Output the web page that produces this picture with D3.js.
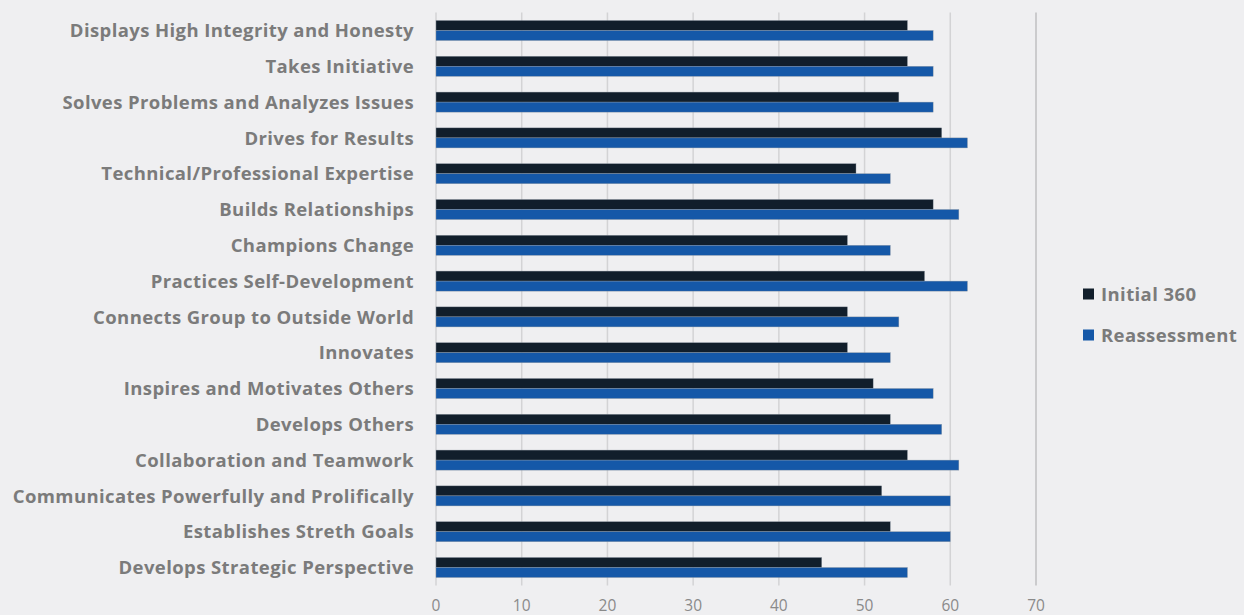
<!DOCTYPE html>
<html>
<head>
<meta charset="utf-8">
<script src="https://cdn.jsdelivr.net/npm/d3@7/dist/d3.min.js"></script>
<style>
  html, body { margin: 0; padding: 0; background: #efeff1; }
  svg { display: block; }
</style>
</head>
<body>
<svg id="chart" width="1244" height="615"></svg>
<script>
      var categories = [
        'Displays High Integrity and Honesty',
        'Takes Initiative',
        'Solves Problems and Analyzes Issues',
        'Drives for Results',
        'Technical/Professional Expertise',
        'Builds Relationships',
        'Champions Change',
        'Practices Self-Development',
        'Connects Group to Outside World',
        'Innovates',
        'Inspires and Motivates Others',
        'Develops Others',
        'Collaboration and Teamwork',
        'Communicates Powerfully and Prolifically',
        'Establishes Streth Goals',
        'Develops Strategic Perspective'
      ];
      var initial360 =   [55, 55, 54, 59, 49, 58, 48, 57, 48, 48, 51, 53, 55, 52, 53, 45];
      var reassessment = [58, 58, 58, 62, 53, 61, 53, 62, 54, 53, 58, 59, 61, 60, 60, 55];
      var seriesNames = ['Initial 360', 'Reassessment'];
      var xTicks = [0, 10, 20, 30, 40, 50, 60, 70];

      var colors = ['#111e2b', '#1558a8'];
      var textColor = '#7b7b7b';
      var labelFont = '"Open Sans", sans-serif';

      var svg = d3.select('#chart');
      var margin = { top: 12.6, left: 436, right: 1036 };
      var plotBottom = 585.4;

      var xScale = d3.scaleLinear()
                     .domain([0, 70])
                     .range([margin.left, margin.right]);

      var yScale = d3.scaleBand()
                     .domain(categories)
                     .range([margin.top, plotBottom])
                     .paddingInner(0.44)
                     .paddingOuter(0.22);

      var subScale = d3.scaleBand()
                       .domain(seriesNames)
                       .range([0, yScale.bandwidth()]);

      // gridlines
      svg.append('g')
         .selectAll('line')
         .data(xTicks)
         .enter()
         .append('line')
         .attr('x1', d => xScale(d))
         .attr('x2', d => xScale(d))
         .attr('y1', margin.top)
         .attr('y2', plotBottom)
         .style('stroke', d => d == 70 ? '#cbcbcd' : '#d3d3d5')
         .style('stroke-width', d => d == 70 ? 2 : 1.5);

      // bars
      var rows = categories.map((c, i) => ({ cat: c, vals: [initial360[i], reassessment[i]] }));
      var groups = svg.append('g')
         .selectAll('g')
         .data(rows)
         .enter()
         .append('g')
         .attr('transform', d => 'translate(0,' + yScale(d.cat) + ')');

      groups.selectAll('rect')
         .data(d => d.vals.map((v, j) => ({ v: v, s: seriesNames[j], j: j })))
         .enter()
         .append('rect')
         .attr('x', xScale(0))
         .attr('y', d => subScale(d.s))
         .attr('width', d => xScale(d.v) - xScale(0))
         .attr('height', subScale.bandwidth())
         .style('fill', d => colors[d.j])
         .style('stroke', '#8e98a4')
         .style('stroke-width', 0.4);

      // category labels
      svg.append('g')
         .selectAll('text')
         .data(categories)
         .enter()
         .append('text')
         .attr('x', 414)
         .attr('y', d => yScale(d) + yScale.bandwidth() / 2)
         .attr('dy', '0.36em')
         .attr('text-anchor', 'end')
         .style('font-family', labelFont)
         .style('font-weight', 'bold')
         .style('font-size', '18.5px')
         .style('letter-spacing', '0.4px')
         .style('fill', textColor)
         .text(d => d);

      // x tick labels
      svg.append('g')
         .selectAll('text')
         .data(xTicks)
         .enter()
         .append('text')
         .attr('x', d => xScale(d))
         .attr('y', 605)
         .attr('dy', '0.36em')
         .attr('text-anchor', 'middle')
         .style('font-family', labelFont)
         .style('font-size', '15.5px')
         .style('fill', '#8a8a8a')
         .text(d => d);

      // legend
      var legend = svg.append('g')
         .selectAll('g')
         .data(seriesNames)
         .enter()
         .append('g')
         .attr('transform', (d, i) => 'translate(1083,' + (288.5 + i * 41) + ')');
      legend.append('rect')
         .attr('width', 11)
         .attr('height', 11)
         .style('fill', (d, i) => colors[i]);
      legend.append('text')
         .attr('x', 18)
         .attr('y', 5.5)
         .attr('dy', '0.36em')
         .style('font-family', labelFont)
         .style('font-weight', 'bold')
         .style('font-size', '18.5px')
         .style('letter-spacing', '0.4px')
         .style('fill', textColor)
         .text(d => d);
</script>
</body>
</html>
